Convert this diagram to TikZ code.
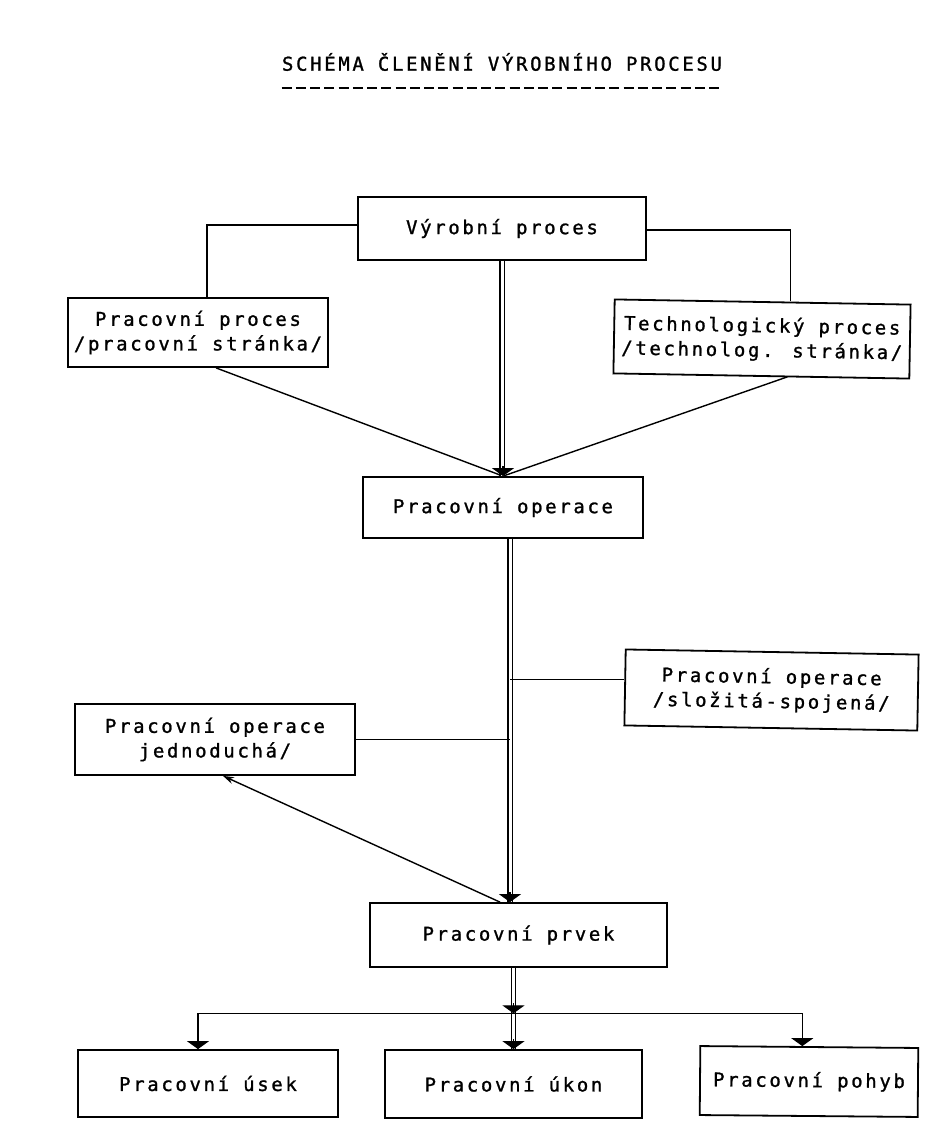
\documentclass[tikz,border=0pt]{standalone}
\usepackage{fontspec}
\newfontfamily\psaci[LetterSpace=14,FakeBold=1.2]{DejaVu Sans Mono}
\usetikzlibrary{arrows.meta,calc,positioning}

\tikzset{
  ramec/.style={draw, line width=0.036cm, align=center, inner sep=0pt, font=\psaci\fontsize{10.8}{14}\selectfont},
  spoj/.style={line width=0.028cm},
  dvoj/.style={double, line width=0.026cm, double distance=0.06cm},
  hrot/.style={-{Triangle[width=0.44cm,length=0.16cm]}, line width=0.024cm},
  maly/.style={-{Stealth[width=0.14cm,length=0.22cm]}, line width=0.028cm},
  carky/.style={line width=0.055cm, dash pattern=on 0.2cm off 0.085cm}
}

\begin{document}
\begin{tikzpicture}[x=0.02cm,y=-0.02cm]
                    \useasboundingbox (0,0) rectangle (929,1140);
                    
                    % Marking title
                    \node (nadpis) at (502,62) [inner sep=0pt, font=\psaci\fontsize{10.8}{14}\selectfont] {SCHÉMA ČLENĚNÍ VÝROBNÍHO PROCESU};%
                    \draw [carky] ([yshift=-0.52cm]nadpis.west) -- ([yshift=-0.52cm]nadpis.east);%
                    
                    % Marking box Vyrobni proces
                    \node (vp) at (502,228.5) [ramec, minimum width=5.76cm, minimum height=1.26cm] {Výrobní proces};%
                    
                    % Marking box Pracovni proces
                    \node (pp) at (198,332.5) [ramec, minimum width=5.2cm, minimum height=1.38cm] {Pracovní proces\\/pracovní stránka/};%
                    
                    % Marking box Technologicky proces
                    \node (tp) at (762,339) [ramec, rotate=-1, minimum width=5.92cm, minimum height=1.48cm] {Technologický proces\\/technolog. stránka/};%
                    
                    % Marking box Pracovni operace
                    \node (po) at (503,507.5) [ramec, minimum width=5.6cm, minimum height=1.22cm] {Pracovní operace};%
                    
                    % Marking box slozita-spojena
                    \node (pos) at (771.5,690) [ramec, rotate=-1, minimum width=5.86cm, minimum height=1.52cm] {Pracovní operace\\/složitá-spojená/};%
                    
                    % Marking box jednoducha
                    \node (poj) at (215,739.5) [ramec, minimum width=5.6cm, minimum height=1.42cm] {Pracovní operace\\jednoduchá/};%
                    
                    % Marking box Pracovni prvek
                    \node (pr) at (518.5,935) [ramec, minimum width=5.94cm, minimum height=1.28cm] {Pracovní prvek};%
                    
                    % Marking bottom boxes
                    \node (u1) at (208,1083.5) [ramec, minimum width=5.2cm, minimum height=1.34cm] {Pracovní úsek};%
                    \node (u2) at (513.5,1084) [ramec, minimum width=5.14cm, minimum height=1.36cm] {Pracovní úkon};%
                    \node (u3) at (809,1081.5) [ramec, rotate=-0.5, minimum width=4.36cm, minimum height=1.38cm] {Pracovní pohyb};%
                    
                    % Drawing lines vp -- pp, vp -- tp
                    \draw [spoj] ([yshift=0.07cm]vp.west) -| ([xshift=0.18cm]pp.north);%
                    \draw [spoj] ([yshift=-0.03cm]vp.east) -| ([xshift=0.56cm]tp.north);%
                    
                    % Drawing lines pp -- po, tp -- po
                    \draw [spoj] ([xshift=0.36cm]pp.south) -- (po.north);%
                    \draw [spoj] ([xshift=0.52cm]tp.south) -- (po.north);%
                    
                    % Drawing double line vp -- po
                    \draw [dvoj] (vp.south) -- (vp.south |- po.north);%
                    \draw [hrot] ([yshift=0.2cm]po.north) -- (po.north);%
                    
                    % Drawing double line po -- pr
                    \coordinate (osa) at ([xshift=0.14cm]po.south);%
                    \draw [dvoj] (osa) -- (osa |- pr.north);%
                    \draw [hrot] ([yshift=0.2cm]osa |- pr.north) -- (osa |- pr.north);%
                    
                    % Drawing side lines
                    \coordinate (p1) at ([yshift=0.16cm]pos.west);%
                    \draw [spoj] (p1) -- (p1 -| osa);%
                    \draw [spoj] (poj.east) -- (poj.east -| osa);%
                    
                    % Drawing arrow pr -- poj
                    \draw [maly] ([xshift=-0.37cm]pr.north) -- ([xshift=0.16cm]poj.south);%
                    
                    % Drawing double line pr -- u2
                    \coordinate (r0) at (pr.south -| u2.north);%
                    \coordinate (r) at ($(r0)!0.56!(u2.north)$);%
                    \draw [dvoj] (r0) -- (u2.north);%
                    \draw [hrot] ([yshift=0.2cm]r) -- (r);%
                    \draw [hrot] ([yshift=0.2cm]u2.north) -- (u2.north);%
                    
                    % Drawing branches u1, u3
                    \coordinate (vl) at ([xshift=-0.2cm]u1.north);%
                    \coordinate (vr) at ([xshift=-0.14cm]u3.north);%
                    \draw [spoj] (vl |- r) -- (vr |- r);%
                    \draw [hrot] (vl |- r) -- (vl);%
                    \draw [hrot] (vr |- r) -- (vr);%
                \end{tikzpicture}
\end{document}
